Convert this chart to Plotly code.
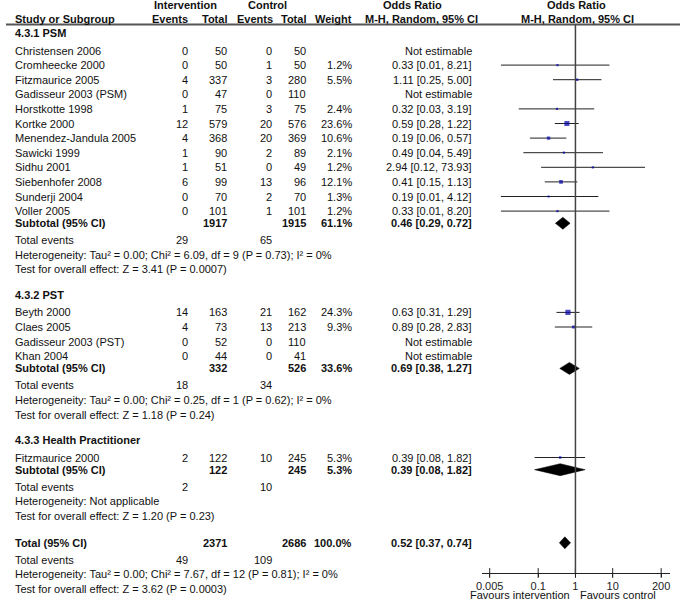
import math
import plotly.graph_objects as go

W, H = 680, 600

# ---------------- data ----------------
psm_studies = ["Christensen 2006", "Cromheecke 2000", "Fitzmaurice 2005", "Gadisseur 2003 (PSM)",
               "Horstkotte 1998", "Kortke 2000", "Menendez-Jandula 2005", "Sawicki 1999",
               "Sidhu 2001", "Siebenhofer 2008", "Sunderji 2004", "Voller 2005"]
psm_int_events = [0, 0, 4, 0, 1, 12, 4, 1, 1, 6, 0, 0]
psm_int_total = [50, 50, 337, 47, 75, 579, 368, 90, 51, 99, 70, 101]
psm_ctl_events = [0, 1, 3, 0, 3, 20, 20, 2, 0, 13, 2, 1]
psm_ctl_total = [50, 50, 280, 110, 75, 576, 369, 89, 49, 96, 70, 101]
psm_weight = [None, 1.2, 5.5, None, 2.4, 23.6, 10.6, 2.1, 1.2, 12.1, 1.3, 1.2]
psm_or = [None, 0.33, 1.11, None, 0.32, 0.59, 0.19, 0.49, 2.94, 0.41, 0.19, 0.33]
psm_lo = [None, 0.01, 0.25, None, 0.03, 0.28, 0.06, 0.04, 0.12, 0.15, 0.01, 0.01]
psm_hi = [None, 8.21, 5.00, None, 3.19, 1.22, 0.57, 5.49, 73.93, 1.13, 4.12, 8.20]

pst_studies = ["Beyth 2000", "Claes 2005", "Gadisseur 2003 (PST)", "Khan 2004"]
pst_int_events = [14, 4, 0, 0]
pst_int_total = [163, 73, 52, 44]
pst_ctl_events = [21, 13, 0, 0]
pst_ctl_total = [162, 213, 110, 41]
pst_weight = [24.3, 9.3, None, None]
pst_or = [0.63, 0.89, None, None]
pst_lo = [0.31, 0.28, None, None]
pst_hi = [1.29, 2.83, None, None]

hp_studies = ["Fitzmaurice 2000"]
hp_int_events = [2]
hp_int_total = [122]
hp_ctl_events = [10]
hp_ctl_total = [245]
hp_weight = [5.3]
hp_or = [0.39]
hp_lo = [0.08]
hp_hi = [1.82]

subgroup_names = ["4.3.1 PSM", "4.3.2 PST", "4.3.3 Health Practitioner"]
sub_int_total = [1917, 332, 122]
sub_ctl_total = [1915, 526, 245]
sub_weight = [61.1, 33.6, 5.3]
sub_or = [0.46, 0.69, 0.39]
sub_lo = [0.29, 0.38, 0.08]
sub_hi = [0.72, 1.27, 1.82]
sub_int_events = [29, 18, 2]
sub_ctl_events = [65, 34, 10]
sub_heterogeneity = ["Heterogeneity: Tau² = 0.00; Chi² = 6.09, df = 9 (P = 0.73); I² = 0%",
                     "Heterogeneity: Tau² = 0.00; Chi² = 0.25, df = 1 (P = 0.62); I² = 0%",
                     "Heterogeneity: Not applicable"]
sub_test = ["Test for overall effect: Z = 3.41 (P = 0.0007)",
            "Test for overall effect: Z = 1.18 (P = 0.24)",
            "Test for overall effect: Z = 1.20 (P = 0.23)"]

total_int_total = 2371
total_ctl_total = 2686
total_weight = 100.0
total_or = 0.52
total_lo = 0.37
total_hi = 0.74
total_int_events = 49
total_ctl_events = 109
total_heterogeneity = "Heterogeneity: Tau² = 0.00; Chi² = 7.67, df = 12 (P = 0.81); I² = 0%"
total_test = "Test for overall effect: Z = 3.62 (P = 0.0003)"

tick_vals = [0.005, 0.1, 1, 10, 200]
tick_text = ["0.005", "0.1", "1", "10", "200"]
null_value = 1

# ---------------- layout constants ----------------
FONT = "Liberation Sans, Arial, sans-serif"
FS = 11
TXT = "#111111"
X_STUDY = 9
X_IE, X_IT, X_CE, X_CT, X_W, X_OR = 184, 223, 268, 303, 349, 470
AX_L, AX_R = 480, 670
T_MIN_PX, T_MAX_PX = 488, 661
AXIS_Y = 573
RULE_Y = 24.5

GAPS = dict(study_after_header=17.5, study=14.6, subtotal=12.2, events=16.8,
            het=14.6, test=14.7, header_after_test=25.5, total_after_test=27)

groups = [
    (psm_studies, psm_int_events, psm_int_total, psm_ctl_events, psm_ctl_total, psm_weight, psm_or, psm_lo, psm_hi),
    (pst_studies, pst_int_events, pst_int_total, pst_ctl_events, pst_ctl_total, pst_weight, pst_or, pst_lo, pst_hi),
    (hp_studies, hp_int_events, hp_int_total, hp_ctl_events, hp_ctl_total, hp_weight, hp_or, hp_lo, hp_hi),
]

annotations = []


def txt(xpx, y, s, anchor="left", bold=False, color=TXT):
    annotations.append(dict(
        x=xpx / W, xref="paper", y=y, yref="y",
        text=("<b>%s</b>" % s) if bold else s,
        showarrow=False, xanchor=anchor, yanchor="middle", borderpad=0, borderwidth=0,
        font=dict(family=FONT, size=FS, color=color)))


def fmt_ci(o, l, h):
    return "%.2f [%.2f, %.2f]" % (o, l, h)


ci_x, ci_y = [], []
sq_x, sq_y, sq_s = [], [], []
diamonds = []

y = 33.0
for gi, g in enumerate(groups):
    names, ie, it, ce, ct, wt, orr, lo, hi = g
    if gi > 0:
        y += GAPS["header_after_test"]
    txt(X_STUDY, y, subgroup_names[gi], bold=True)
    for i, name in enumerate(names):
        y += GAPS["study_after_header"] if i == 0 else GAPS["study"]
        txt(X_STUDY, y, name)
        txt(X_IE, y, str(ie[i]), "right")
        txt(X_IT, y, str(it[i]), "right")
        txt(X_CE, y, str(ce[i]), "right")
        txt(X_CT, y, str(ct[i]), "right")
        if orr[i] is None:
            txt(X_OR, y, "Not estimable", "right")
        else:
            txt(X_W, y, "%.1f%%" % wt[i], "right")
            txt(X_OR, y, fmt_ci(orr[i], lo[i], hi[i]), "right")
            ci_x += [lo[i], hi[i], None]
            ci_y += [y, y, None]
            sq_x.append(orr[i])
            sq_y.append(y)
            sq_s.append(max(2.2, math.sqrt(wt[i]) * 1.05))
    y += GAPS["subtotal"]
    txt(X_STUDY, y, "Subtotal (95% CI)", bold=True)
    txt(X_IT, y, str(sub_int_total[gi]), "right", bold=True)
    txt(X_CT, y, str(sub_ctl_total[gi]), "right", bold=True)
    txt(X_W, y, "%.1f%%" % sub_weight[gi], "right", bold=True)
    txt(X_OR, y, fmt_ci(sub_or[gi], sub_lo[gi], sub_hi[gi]), "right", bold=True)
    diamonds.append((sub_or[gi], sub_lo[gi], sub_hi[gi], y))
    y += GAPS["events"]
    txt(X_STUDY, y, "Total events")
    txt(X_IE, y, str(sub_int_events[gi]), "right")
    txt(X_CE, y, str(sub_ctl_events[gi]), "right")
    y += GAPS["het"]
    txt(X_STUDY, y, sub_heterogeneity[gi])
    y += GAPS["test"]
    txt(X_STUDY, y, sub_test[gi])

y += GAPS["total_after_test"]
txt(X_STUDY, y, "Total (95% CI)", bold=True)
txt(X_IT, y, str(total_int_total), "right", bold=True)
txt(X_CT, y, str(total_ctl_total), "right", bold=True)
txt(X_W, y, "%.1f%%" % total_weight, "right", bold=True)
txt(X_OR, y, fmt_ci(total_or, total_lo, total_hi), "right", bold=True)
diamonds.append((total_or, total_lo, total_hi, y))
y += GAPS["events"]
txt(X_STUDY, y, "Total events")
txt(X_IE, y, str(total_int_events), "right")
txt(X_CE, y, str(total_ctl_events), "right")
y += GAPS["het"]
txt(X_STUDY, y, total_heterogeneity)
y += GAPS["test"]
txt(X_STUDY, y, total_test)

# headers
H1, H2 = 5, 19
txt(181.5, H1, "Intervention", "center", bold=True)
txt(264, H1, "Control", "center", bold=True)
txt(410, H1, "Odds Ratio", "center", bold=True)
txt(576, H1, "Odds Ratio", "center", bold=True)
txt(X_STUDY, H2, "Study or Subgroup", bold=True)
txt(X_IE, H2, "Events", "right", bold=True)
txt(X_IT, H2, "Total", "right", bold=True)
txt(X_CE + 1, H2, "Events", "right", bold=True)
txt(X_CT, H2, "Total", "right", bold=True)
txt(X_W, H2, "Weight", "right", bold=True)
txt(419, H2, "M-H, Random, 95% CI", "center", bold=True)
txt(577, H2, "M-H, Random, 95% CI", "center", bold=True)

# favours labels
txt(518.5, 595, "Favours intervention", "center")
txt(617, 595, "Favours control", "center")

# ---------------- traces ----------------
fig = go.Figure()
fig.add_trace(go.Scatter(x=ci_x, y=ci_y, mode="lines", line=dict(color="#222222", width=1),
                         hoverinfo="skip", showlegend=False))
fig.add_trace(go.Scatter(x=sq_x, y=sq_y, mode="markers",
                         marker=dict(symbol="square", size=sq_s, color="#0000A8", line=dict(width=0)),
                         hoverinfo="skip", showlegend=False))
DH = 6
for (o, l, h, yy) in diamonds:
    fig.add_trace(go.Scatter(x=[l, o, h, o, l], y=[yy, yy - DH, yy, yy + DH, yy], mode="lines",
                             fill="toself", fillcolor="black", line=dict(color="black", width=0.5),
                             hoverinfo="skip", showlegend=False))
# cross tick marks
fig.add_trace(go.Scatter(x=tick_vals, y=[AXIS_Y] * len(tick_vals), mode="markers",
                         marker=dict(symbol="line-ns", size=7, line=dict(color="#222222", width=1)),
                         hoverinfo="skip", showlegend=False, cliponaxis=False))

# axis range so that tick extremes land at given pixels
lmin, lmax = math.log10(tick_vals[0]), math.log10(tick_vals[-1])
ppd = (T_MAX_PX - T_MIN_PX) / (lmax - lmin)
r_lo = lmin - (T_MIN_PX - AX_L) / ppd
r_hi = lmax + (AX_R - T_MAX_PX) / ppd

shapes = [
    dict(type="line", xref="paper", yref="y", x0=0, x1=1, y0=RULE_Y, y1=RULE_Y,
         line=dict(color="#555555", width=2)),
    dict(type="line", xref="x", yref="y", x0=null_value, x1=null_value, y0=RULE_Y, y1=AXIS_Y,
         line=dict(color="#444444", width=1.5)),
]

fig.update_layout(
    width=W, height=H, margin=dict(l=0, r=0, t=0, b=0),
    paper_bgcolor="white", plot_bgcolor="rgba(0,0,0,0)",
    showlegend=False,
    xaxis=dict(type="log", range=[r_lo, r_hi], domain=[AX_L / W, AX_R / W],
               anchor="free", position=1 - AXIS_Y / H,
               showline=True, linecolor="#222222", linewidth=1,
               ticks="outside", ticklen=3, tickcolor="#222222",
               tickvals=tick_vals, ticktext=tick_text,
               tickfont=dict(family=FONT, size=FS, color="#222222"),
               showgrid=False, zeroline=False, fixedrange=True),
    yaxis=dict(range=[H, 0], domain=[0, 1], visible=False, fixedrange=True),
    shapes=shapes,
    annotations=annotations,
)

fig.write_html("out.html", config=dict(displayModeBar=False),
               post_script="document.body.style.margin='0';document.body.style.overflow='hidden';")
